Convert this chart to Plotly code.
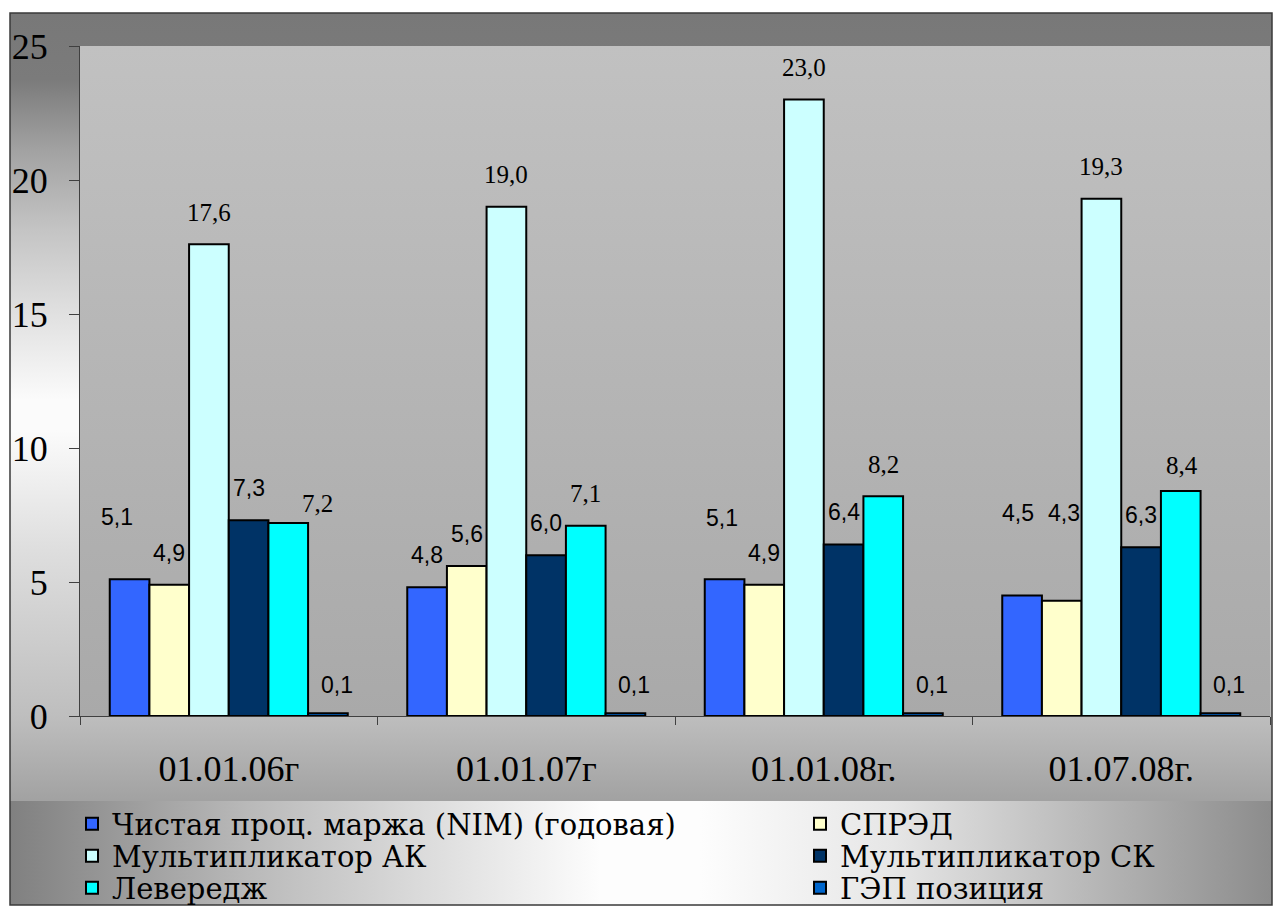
import base64
import plotly.graph_objects as go

# ---- data -------------------------------------------------------------
dates = ["01.01.06г", "01.01.07г", "01.01.08г.", "01.07.08г."]

series_names = [
    "Чистая проц. маржа (NIM) (годовая)",
    "СПРЭД",
    "Мультипликатор АК",
    "Мультипликатор СК",
    "Левередж",
    "ГЭП позиция",
]
nim = [5.1, 4.8, 5.1, 4.5]
spread = [4.9, 5.6, 4.9, 4.3]
mult_ak = [17.6, 19.0, 23.0, 19.3]
mult_sk = [7.3, 6.0, 6.4, 6.3]
leverage = [7.2, 7.1, 8.2, 8.4]
gap_pos = [0.1, 0.1, 0.1, 0.1]
y_ticks = [0, 5, 10, 15, 20, 25]

# ---- styling ----------------------------------------------------------
SERIF = "Liberation Serif, Times New Roman, Times, DejaVu Serif, serif"
WIDE_SERIF = "DejaVu Serif, Liberation Serif, serif"
SANS = "Liberation Sans, Arial, Helvetica, DejaVu Sans, sans-serif"

values = [nim, spread, mult_ak, mult_sk, leverage, gap_pos]
colors = ["#3366FF", "#FFFFCC", "#CCFFFF", "#003366", "#00FFFF", "#0066CC"]
label_fonts = [(SANS, 23), (SANS, 23), (SERIF, 25), (SANS, 23), (SERIF, 25), (SANS, 23)]
legend_ids = ["legend", "legend2", "legend3", "legend4", "legend5", "legend6"]

W, H = 1273, 909
L, R, T, B = 80, 3, 46, 193
PW, PH = W - L - R, H - T - B


def px_x(px):
    return (px - L) / PW


def px_y(py):
    return (H - B - py) / PH


# background: chart area, plot area and legend band with gradient fills
svg = f"""<svg xmlns="http://www.w3.org/2000/svg" width="{W}" height="{H}" viewBox="0 0 {W} {H}" preserveAspectRatio="none">
<defs>
<linearGradient id="ca" x1="0" y1="0" x2="0" y2="1">
<stop offset="0" stop-color="#787878"/>
<stop offset="0.075" stop-color="#7b7b7b"/>
<stop offset="0.154" stop-color="#a2a2a2"/>
<stop offset="0.243" stop-color="#c4c4c4"/>
<stop offset="0.322" stop-color="#dcdcdc"/>
<stop offset="0.434" stop-color="#fbfbfb"/>
<stop offset="0.468" stop-color="#fbfbfb"/>
<stop offset="0.602" stop-color="#dedede"/>
<stop offset="0.788" stop-color="#bebebe"/>
<stop offset="0.882" stop-color="#a2a2a2"/>
<stop offset="1" stop-color="#989898"/>
</linearGradient>
<linearGradient id="pa" x1="0" y1="0" x2="0" y2="1">
<stop offset="0" stop-color="#c1c1c1"/>
<stop offset="1" stop-color="#a9a9a9"/>
</linearGradient>
<linearGradient id="lg" x1="0" y1="0" x2="1" y2="0">
<stop offset="0" stop-color="#808080"/>
<stop offset="0.185" stop-color="#b8b8b8"/>
<stop offset="0.314" stop-color="#d8d8d8"/>
<stop offset="0.468" stop-color="#fdfdfd"/>
<stop offset="0.547" stop-color="#fdfdfd"/>
<stop offset="0.7" stop-color="#e6e6e6"/>
<stop offset="0.828" stop-color="#c0c0c0"/>
<stop offset="1" stop-color="#8c8c8c"/>
</linearGradient>
</defs>
<rect x="0" y="0" width="{W}" height="{H}" fill="#ffffff"/>
<rect x="10" y="13" width="1262" height="892" fill="url(#ca)"/>
<rect x="{L}" y="{T}" width="{PW}" height="{PH}" fill="url(#pa)"/>
<rect x="10" y="801" width="1262" height="104" fill="url(#lg)"/>
<rect x="10" y="13" width="1262" height="892" fill="none" stroke="#3a3a3a" stroke-width="1.5"/>
</svg>"""
bg_uri = "data:image/svg+xml;base64," + base64.b64encode(svg.encode("utf-8")).decode("ascii")

fig = go.Figure()
for name, vals, col, lg in zip(series_names, values, colors, legend_ids):
    fig.add_trace(go.Bar(
        name=name, x=dates, y=vals, legend=lg,
        marker=dict(color=col, line=dict(color="#000000", width=2)),
        hoverinfo="x+y+name",
    ))

# value labels above the bars (a few were dragged further in the source workbook)
n_series = len(values)
slot = 0.8 / n_series
nudges = {(0, 0): (-13, 62), (0, 4): (29, 20), (2, 0): (-3, 61),
          (3, 0): (-4, 82), (3, 1): (2, 88), (3, 4): (1, 25)}
annotations = []
for s, (vals, (fam, fsize)) in enumerate(zip(values, label_fonts)):
    for g, v in enumerate(vals):
        dx, dy = (9, 28) if s == n_series - 1 else (0, 32)
        dx, dy = nudges.get((g, s), (dx, dy))
        annotations.append(dict(
            x=g + (s - (n_series - 1) / 2) * slot, y=v, xref="x", yref="y",
            text=f"{v:.1f}".replace(".", ","), showarrow=False,
            xshift=dx, yshift=dy, yanchor="middle", xanchor="center",
            font=dict(family=fam, size=fsize, color="#000000"),
        ))

legend_pos = [(72, 824), (800, 824), (72, 856), (800, 856), (72, 888), (800, 888)]
legend_layouts = {}
for lg, (lx, ly) in zip(legend_ids, legend_pos):
    legend_layouts[lg] = dict(
        x=px_x(lx), y=px_y(ly), xanchor="left", yanchor="middle",
        xref="paper", yref="paper", orientation="v",
        bgcolor="rgba(0,0,0,0)", borderwidth=0,
        font=dict(family=WIDE_SERIF, size=29, color="#000000"),
    )

fig.update_layout(
    width=W, height=H,
    margin=dict(l=L, r=R, t=T, b=B, pad=0, autoexpand=False),
    paper_bgcolor="#ffffff",
    plot_bgcolor="rgba(0,0,0,0)",
    barmode="group", bargap=0.2, bargroupgap=0,
    showlegend=True,
    annotations=annotations,
    images=[dict(source=bg_uri, xref="paper", yref="paper",
                 x=px_x(0), y=px_y(0), sizex=W / PW, sizey=H / PH,
                 xanchor="left", yanchor="top", sizing="stretch",
                 layer="below")],
    xaxis=dict(
        type="category", tickson="boundaries", ticks="outside",
        ticklen=8, tickcolor="#404040", tickwidth=1,
        showline=True, linecolor="#404040", linewidth=1,
        showgrid=False, zeroline=False, ticklabelstandoff=21,
        tickfont=dict(family=SERIF, size=36, color="#000000"),
    ),
    yaxis=dict(
        range=[0, 25], tickvals=y_ticks, ticks="outside",
        ticklen=10, tickcolor="#404040", tickwidth=1,
        showline=True, linecolor="#404040", linewidth=1,
        showgrid=False, zeroline=False, ticklabelstandoff=14,
        tickfont=dict(family=SERIF, size=36, color="#000000"),
    ),
    yaxis2=dict(
        range=[0, 25], overlaying="y", anchor="x", side="left",
        tickvals=y_ticks[1:-1], showticklabels=False, ticks="",
        showgrid=True, gridcolor="#000000", gridwidth=1,
        showline=False, zeroline=False,
    ),
    **legend_layouts,
)

fig.write_html("out.html")
